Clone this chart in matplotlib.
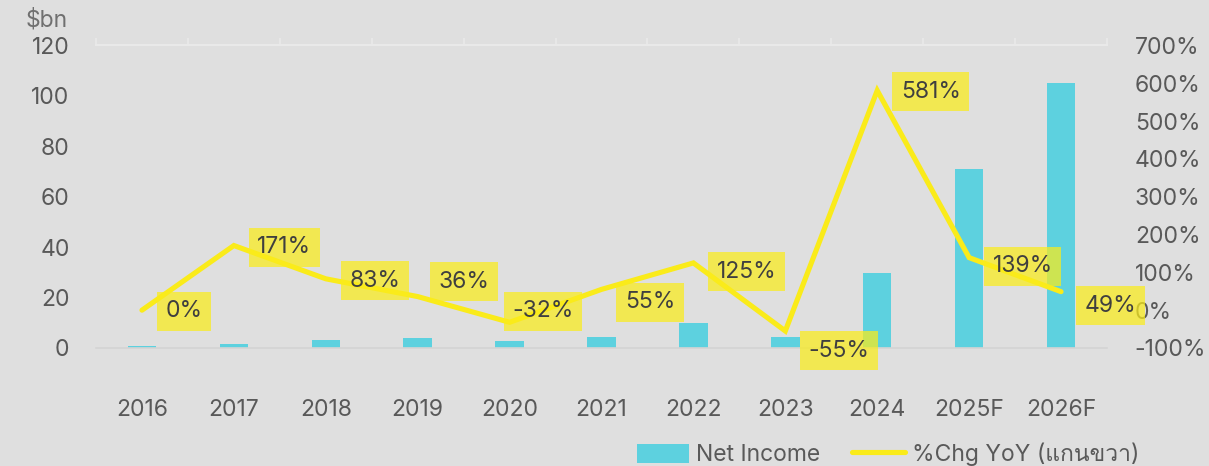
import matplotlib
matplotlib.use("Agg")
import matplotlib.pyplot as plt
from matplotlib import font_manager
from matplotlib.ft2font import FT2Font
from matplotlib.patches import Patch
from matplotlib.lines import Line2D

# ---------------- data ----------------
years = ["2016", "2017", "2018", "2019", "2020", "2021", "2022", "2023", "2024", "2025F", "2026F"]
net_income = [0.6, 1.7, 3.0, 4.1, 2.8, 4.3, 9.8, 4.4, 29.8, 71.0, 105.0]
chg_yoy = [0, 171, 83, 36, -32, 55, 125, -55, 581, 139, 49]
left_ticks = [0, 20, 40, 60, 80, 100, 120]
right_ticks = [-100, 0, 100, 200, 300, 400, 500, 600, 700]

# ---------------- fonts ----------------
thai_family = None
for f in font_manager.fontManager.ttflist:
    try:
        cm = FT2Font(f.fname).get_charmap()
        if ord("แ") in cm and ord("ก") in cm:
            thai_family = f.name
            break
    except Exception:
        pass
families = ["Inter", "DejaVu Sans"]
if thai_family:
    families.append(thai_family)
plt.rcParams["font.family"] = families

BG = "#dfdfdf"
BAR = "#5dd1df"
LINE = "#faeb1a"
TICK = "#595959"
LABEL = "#3f3f3f"
FS = 16.5

fig = plt.figure(figsize=(12.09, 4.66), dpi=100, facecolor=BG)
ax = fig.add_axes([96 / 1209, 1 - 348 / 466, (1107 - 96) / 1209, (348 - 45.5) / 466])
ax.set_facecolor(BG)
x = list(range(len(years)))

ax.bar(x, net_income, width=0.31, color=BAR, zorder=2)
ax.set_xlim(-0.5, len(years) - 0.5)
ax.set_ylim(0, 120)
ax.set_yticks(left_ticks)
ax.set_xticks(x)
ax.set_xticklabels(years)
ax.tick_params(axis="both", length=0, colors=TICK, labelsize=FS)
ax.tick_params(axis="y", pad=19)
ax.tick_params(axis="x", pad=37)
for s in ["top", "right", "left"]:
    ax.spines[s].set_visible(False)
ax.spines["bottom"].set_color("#d4d4d4")
ax.spines["bottom"].set_linewidth(1.2)
ax.text(-0.0277, 1.045, "$bn", transform=ax.transAxes, ha="right", va="bottom",
        fontsize=FS, color="#707070")

# top line with boundary ticks
top = ax.secondary_xaxis("top")
top.set_xticks([i - 0.5 for i in range(len(years) + 1)])
top.set_xticklabels([])
top.tick_params(length=5, color="#e9e9e9", width=1.2, direction="out")
top.spines["top"].set_color("#e9e9e9")
top.spines["top"].set_linewidth(1.5)

ax2 = ax.twinx()
ax2.set_ylim(-100, 700)
ax2.set_yticks(right_ticks)
ax2.set_yticklabels([f"{t}%" for t in right_ticks])
ax2.tick_params(axis="y", length=0, colors=TICK, labelsize=FS, pad=20)
for s in ax2.spines.values():
    s.set_visible(False)
ax2.plot(x, chg_yoy, color=LINE, lw=3.7, solid_capstyle="round", solid_joinstyle="miter", zorder=3)

# label offsets (pixels: box-left from point, box-center below point)
lab_dx = [15, 15, 15, 12, -6, 15, 15, 15, 15, 15, 15]
lab_dy = [1, 1.5, 2, -15, -11, 13, 9, 20, 1.5, 8.5, 14]
pad_px = 8.5
for xi, v, dx, dy in zip(x, chg_yoy, lab_dx, lab_dy):
    ax2.annotate(f"{v}%", (xi, v), xytext=((dx + pad_px) * 0.72, -dy * 0.72),
                 textcoords="offset points", ha="left", va="center",
                 fontsize=FS, color=LABEL, zorder=5,
                 bbox=dict(boxstyle=f"square,pad={pad_px / (FS / 0.72):.3f}",
                           fc=(0.98, 0.925, 0.10, 0.72), ec="none"))

handles = [Patch(facecolor=BAR, edgecolor="none"),
           Line2D([0], [0], color=LINE, lw=3.7, solid_capstyle="round")]
fig.legend(handles, ["Net Income", "%Chg YoY (แกนขวา)"], loc="lower right",
           bbox_to_anchor=(1160 / 1209, -0.045), ncol=2, frameon=False,
           fontsize=FS, labelcolor=TICK, handlelength=2.3, handleheight=0.95,
           columnspacing=1.4, handletextpad=0.3)

fig.savefig("out.png", dpi=100, facecolor=BG)
